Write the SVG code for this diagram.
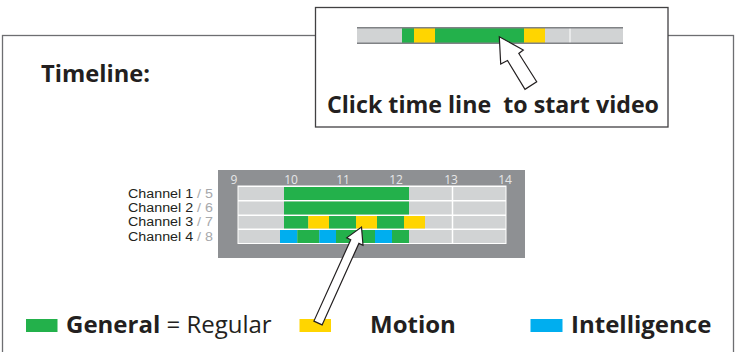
<svg xmlns="http://www.w3.org/2000/svg" width="736" height="352" viewBox="0 0 736 352">
<style>
.t{font-family:"Open Sans","Noto Sans","Liberation Sans",sans-serif;fill:#231f20}
.b{font-weight:700}
.ch{font-family:"Liberation Sans",Arial,sans-serif;font-size:12.5px;fill:#231f20}
.sl{fill:#a7a9ac}
.hr{font-family:"Open Sans","Liberation Sans",sans-serif;font-size:12px;fill:#e6e7e8;text-anchor:middle}
.g{fill:#23b14b}
.y{fill:#ffd500}
.c{fill:#00aeef}
.cell{fill:#d1d3d4}
.arrow{fill:#fff;stroke:#231f20;stroke-width:1.2;stroke-linejoin:miter}
</style>
<rect width="736" height="352" fill="#fff"/>
<g id="frame">
<rect x="2.5" y="35.5" width="731" height="340" fill="#fff" stroke="#6d6e71" stroke-width="1.3"/>
<text class="t b" x="41" y="82" font-size="24" textLength="109" lengthAdjust="spacingAndGlyphs">Timeline:</text>
</g>
<g id="popup">
<rect x="315.5" y="7.5" width="352.5" height="119.5" fill="#fff" stroke="#414042" stroke-width="1.3"/>
<rect x="357" y="28" width="266" height="15" class="cell"/>
<rect x="402" y="28" width="12" height="15" class="g"/>
<rect x="414" y="28" width="21" height="15" class="y"/>
<rect x="435" y="28" width="89" height="15" class="g"/>
<rect x="524" y="28" width="21" height="15" class="y"/>
<line x1="570" y1="28" x2="570" y2="43" stroke="#fff" stroke-width="1"/>
<line x1="357" y1="27.8" x2="623" y2="27.8" stroke="#808285" stroke-width="1.5"/>
<line x1="357" y1="43.2" x2="623" y2="43.2" stroke="#808285" stroke-width="1.5"/>
<text class="t b" x="327" y="113" font-size="24" textLength="332" lengthAdjust="spacingAndGlyphs" style="white-space:pre">Click time line  to start video</text>
</g>
<g id="timeline">
<rect x="218" y="170" width="307" height="88" fill="#8e9093"/>
<text class="hr" x="234" y="184">9</text>
<text class="hr" x="291" y="184">10</text>
<text class="hr" x="343" y="184">11</text>
<text class="hr" x="396" y="184">12</text>
<text class="hr" x="451" y="184">13</text>
<text class="hr" x="505" y="184">14</text>
<rect x="237.5" y="185.5" width="269" height="58.5" fill="#fff"/>
<rect x="238.5" y="187" width="267" height="13" class="cell"/>
<rect x="238.5" y="201.5" width="267" height="13" class="cell"/>
<rect x="238.5" y="216" width="267" height="12.5" class="cell"/>
<rect x="238.5" y="230" width="267" height="13" class="cell"/>
<rect x="284" y="187" width="125" height="13" class="g"/>
<rect x="284" y="201.5" width="125" height="13" class="g"/>
<rect x="284" y="216" width="24.3" height="12.5" class="g"/>
<rect x="308.3" y="216" width="20.7" height="12.5" class="y"/>
<rect x="329" y="216" width="27" height="12.5" class="g"/>
<rect x="356" y="216" width="21" height="12.5" class="y"/>
<rect x="377" y="216" width="27" height="12.5" class="g"/>
<rect x="404" y="216" width="21" height="12.5" class="y"/>
<rect x="280" y="230" width="17.3" height="13" class="c"/>
<rect x="297.3" y="230" width="22" height="13" class="g"/>
<rect x="319.3" y="230" width="16.7" height="13" class="c"/>
<rect x="336" y="230" width="39" height="13" class="g"/>
<rect x="375" y="230" width="17" height="13" class="c"/>
<rect x="392" y="230" width="17" height="13" class="g"/>
<line x1="452.5" y1="186" x2="452.5" y2="243.5" stroke="#fff" stroke-width="1.5"/>
</g>
<g id="channels">
<text class="ch" x="128" y="197.8" textLength="85" lengthAdjust="spacingAndGlyphs">Channel 1 <tspan class="sl">/ 5</tspan></text>
<text class="ch" x="128" y="212.1" textLength="85" lengthAdjust="spacingAndGlyphs">Channel 2 <tspan class="sl">/ 6</tspan></text>
<text class="ch" x="128" y="226.4" textLength="85" lengthAdjust="spacingAndGlyphs">Channel 3 <tspan class="sl">/ 7</tspan></text>
<text class="ch" x="128" y="240.7" textLength="85" lengthAdjust="spacingAndGlyphs">Channel 4 <tspan class="sl">/ 8</tspan></text>
</g>
<g id="legend-general">
<rect x="26" y="319" width="31.5" height="13" class="g"/>
<text class="t" x="66" y="333" font-size="24"><tspan class="b">General</tspan> = Regular</text>
</g>
<g id="legend-motion">
<rect x="299.5" y="319" width="31.5" height="13" class="y"/>
<text class="t b" x="370" y="333" font-size="24">Motion</text>
</g>
<g id="legend-intelligence">
<rect x="530.5" y="319" width="32" height="13" class="c"/>
<text class="t b" x="571" y="333" font-size="24">Intelligence</text>
</g>
<g id="connectors">
<polygon class="arrow" points="361.5,227 363,245.3 358.9,243.4 322.1,324.9 313.9,321.1 350.75,239.7 346.7,237.8"/>
<polygon class="arrow" points="499.3,36.7 523.3,50 518.8,53.5 536.7,81.7 525,89.3 507.5,60.5 500.7,64"/>
</g>
</svg>
